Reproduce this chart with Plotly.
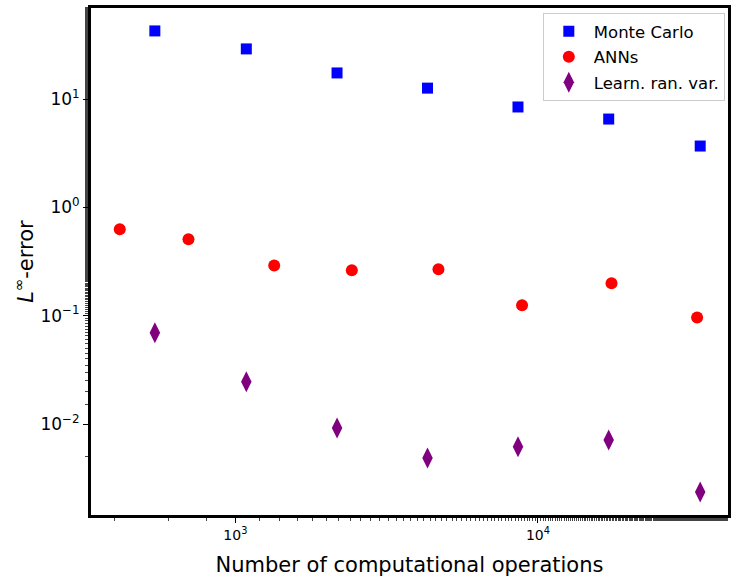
import plotly.graph_objects as go

# Data
mc_ops = [542, 1087, 2168, 4315, 8590, 17130, 34370]
mc_err = [42.5, 29.0, 17.4, 12.6, 8.44, 6.53, 3.68]

ann_ops = [415, 700, 1344, 2426, 4690, 8860, 17500, 33570]
ann_err = [0.627, 0.507, 0.291, 0.262, 0.268, 0.125, 0.199, 0.0964]

lrv_ops = [542, 1087, 2168, 4315, 8590, 17130, 34370]
lrv_err = [0.0697, 0.0245, 0.00919, 0.00485, 0.00616, 0.00711, 0.00236]

x_tickvals = [1e3, 1e4]
x_ticktext = ["10<sup>3</sup>", "10<sup>4</sup>"]
y_tickvals = [1e-2, 1e-1, 1e0, 1e1]
y_ticktext = ["10<sup>−2</sup>", "10<sup>−1</sup>", "10<sup>0</sup>", "10<sup>1</sup>"]

FONT = "DejaVu Sans, sans-serif"

fig = go.Figure()
fig.add_trace(go.Scatter(x=mc_ops, y=mc_err, mode="markers", name="Monte Carlo",
                         legendgroup="mc",
                         marker=dict(symbol="square", size=11, color="#0000ff")))
fig.add_trace(go.Scatter(x=ann_ops, y=ann_err, mode="markers", name="ANNs",
                         legendgroup="ann",
                         marker=dict(symbol="circle", size=12, color="#ff0000")))
fig.add_trace(go.Scatter(x=lrv_ops, y=lrv_err, mode="markers", name="Learn. ran. var.",
                         legendgroup="lrv",
                         marker=dict(symbol="diamond-tall", size=15, color="#800080")))

fig.update_layout(
    width=732, height=577,
    margin=dict(l=91, r=1, t=8, b=62),
    paper_bgcolor="white", plot_bgcolor="white",
    font=dict(family=FONT, color="black"),
    showlegend=True,
    legend=dict(x=0.995, y=0.99, xanchor="right", yanchor="top",
                bgcolor="white", bordercolor="#cccccc", borderwidth=1,
                font=dict(size=16.5, family=FONT), itemwidth=40,
                traceorder="grouped", tracegroupgap=1),
)
fig.update_xaxes(
    type="log", range=[2.523, 4.628],
    tickvals=x_tickvals, ticktext=x_ticktext,
    tickfont=dict(size=14, family=FONT),
    ticks="outside", ticklen=5, tickwidth=1.2, tickcolor="black",
    minor=dict(ticks="outside", ticklen=3, tickwidth=1, tickcolor="#444"),
    showline=True, linewidth=3, linecolor="black", mirror=True,
    showgrid=False, zeroline=False,
    title=dict(text="Number of computational operations", font=dict(size=21, family=FONT), standoff=17),
)
fig.update_yaxes(
    type="log", range=[-2.84, 1.84],
    tickvals=y_tickvals, ticktext=y_ticktext,
    tickfont=dict(size=17, family=FONT),
    ticks="outside", ticklen=5, tickwidth=1.2, tickcolor="black",
    minor=dict(ticks="outside", ticklen=3, tickwidth=1, tickcolor="#444"),
    showline=True, linewidth=3, linecolor="black", mirror=True,
    showgrid=False, zeroline=False,
    title=dict(text="<i>L</i><sup>∞</sup>-error", font=dict(size=21, family=FONT), standoff=2),
)

fig.write_html("out.html", config={"displayModeBar": False},
               post_script="document.body.style.margin='0';document.body.style.overflow='hidden';")
